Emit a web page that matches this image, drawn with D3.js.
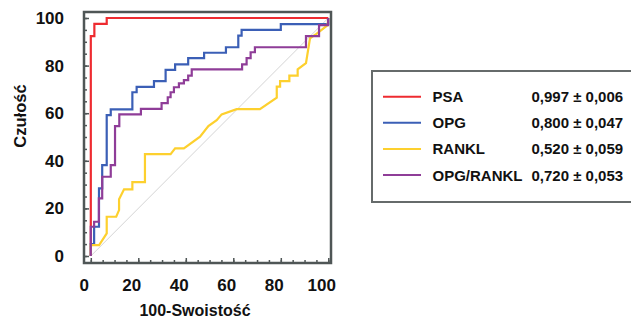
<!DOCTYPE html>
<html><head><meta charset="utf-8">
<script src="https://cdn.jsdelivr.net/npm/d3@7"></script>
<style>
html,body{margin:0;padding:0;background:#fff;}
text{font-family:"Liberation Sans",Arial,sans-serif;font-weight:bold;fill:#111;}
</style></head>
<body>
<svg id="c" width="631" height="320"></svg>
<script>
const seriesNames = ["PSA","OPG","RANKL","OPG/RANKL"];
const aucLabels = ["0,997 ± 0,006","0,800 ± 0,047","0,520 ± 0,059","0,720 ± 0,053"];
const colors = ["#ee2b30","#3b5fb6","#fdd02e","#8f3d98"];
const xTicks = [0,20,40,60,80,100];
const yTicks = [0,20,40,60,80,100];
const xTitle = "100-Swoistość";
const yTitle = "Czułość";

const psaX = [0,0,1.5,1.5,6.7,6.7,100];
const psaY = [0,92.4,92.4,97.5,97.5,100,100];

const opgX = [0,0,1.4,1.4,3.45,3.45,4.8,4.8,6.7,6.7,8.4,8.4,17.5,17.5,19.3,19.3,26.6,26.6,31.5,31.5,35.5,35.5,41,41,47.7,47.7,56.9,56.9,62.1,62.1,63.5,63.5,80,80,100,100];
const opgY = [0,5,5,12.3,12.3,28.4,28.4,38.2,38.2,59.2,59.2,61.6,61.6,68.8,68.8,71.1,71.1,73.5,73.5,78.2,78.2,80.5,80.5,83.1,83.1,85.4,85.4,87.7,87.7,92.6,92.6,95,95,97.4,97.4,100];

const ranklX = [0,0,3.5,6.7,6.7,10.7,11.9,11.9,14,17.5,17.5,22.8,22.8,33.6,35.5,39.2,46,49.5,53,55.1,61.4,71.2,78.3,78.3,79.7,79.7,83.6,83.6,87.1,87.1,90.6,92.3,95,97.2,99.7,100];
const ranklY = [0,4.6,4.6,9.5,16.5,16.5,19.3,23.8,28,28,31,31,42.8,42.8,45.2,45.2,50.1,54.6,57.1,59.5,61.7,61.7,66.5,71.2,71.2,73.5,73.5,75.8,75.8,78.4,81,91.5,93.3,95,97,100];

const ratioX = [0,0,1.4,1.4,3.4,3.4,4.8,4.8,8.4,8.4,10.2,10.2,12.0,12.0,21.1,21.1,29.8,29.8,32.4,32.4,33.6,33.6,35,35,37.1,37.1,39.2,39.2,41,41,42.5,42.5,63.7,63.7,65.6,65.6,67.3,67.3,69.1,69.1,90.6,90.6,96.1,96.1,99.9,99.9];
const ratioY = [0,12.3,12.3,14.4,14.4,24.2,24.2,33.3,33.3,38.2,38.2,54.6,54.6,59.5,59.5,61.8,61.8,64.2,64.2,66.7,66.7,68.8,68.8,70.9,70.9,72.5,72.5,73.9,73.9,75.8,75.8,78.4,78.4,80.5,80.5,83.1,83.1,85.6,85.6,87.7,87.7,92.4,92.4,97,97,100];

const seriesX = [psaX, opgX, ranklX, ratioX];
const seriesY = [psaY, opgY, ranklY, ratioY];
const drawOrder = [0,1,2,3];

const svg = d3.select("#c");
const x = d3.scaleLinear().domain([0,100]).range([90.8,328.3]);
const y = d3.scaleLinear().domain([0,100]).range([256,18]);
const frame = {l:84, r:331, t:12, b:263};
const frameColor = "#4f5656";

svg.append("line").attr("x1",x(0)).attr("y1",y(0)).attr("x2",x(100)).attr("y2",y(100))
  .attr("stroke","#d4d4d4").attr("stroke-width",1);

const line = d3.line().x(d=>x(d[0])).y(d=>y(d[1]));
drawOrder.forEach(i=>{
  const pts = seriesX[i].map((v,k)=>[v, seriesY[i][k]]);
  svg.append("path").attr("d", line(pts)).attr("fill","none")
    .attr("stroke", colors[i]).attr("stroke-width",2.2).attr("stroke-linejoin","miter");
});

svg.append("rect").attr("x",frame.l).attr("y",frame.t).attr("width",frame.r-frame.l).attr("height",frame.b-frame.t)
  .attr("fill","none").attr("stroke",frameColor).attr("stroke-width",2.5);

const minor = d3.range(0,101,5);
const gxm = svg.append("g").attr("transform",`translate(0,${frame.b})`)
  .call(d3.axisBottom(x).tickValues(minor).tickSize(-3).tickFormat(""));
const gym = svg.append("g").attr("transform",`translate(${frame.l},0)`)
  .call(d3.axisLeft(y).tickValues(minor).tickSize(-3).tickFormat(""));
const gx = svg.append("g").attr("transform",`translate(0,${frame.b})`)
  .call(d3.axisBottom(x).tickValues(xTicks).tickSize(-5).tickFormat(d3.format("d")));
const gy = svg.append("g").attr("transform",`translate(${frame.l},0)`)
  .call(d3.axisLeft(y).tickValues(yTicks).tickSize(-5).tickFormat(d3.format("d")));
[gxm,gym,gx,gy].forEach(g=>{
  g.select(".domain").remove();
  g.selectAll(".tick line").attr("stroke",frameColor).attr("stroke-width",1.5);
});
gx.selectAll(".tick text").attr("y",0).attr("dy",0).attr("x",-7).attr("transform","translate(0,22)")
  .attr("dominant-baseline","central").style("font-size","17px").style("font-family","Liberation Sans, Arial").style("font-weight","bold").attr("fill","#111");
gy.selectAll(".tick text").attr("x",-20).attr("dy",0).attr("dominant-baseline","central")
  .style("font-size","17px").style("font-family","Liberation Sans, Arial").style("font-weight","bold").attr("fill","#111");

svg.append("text").attr("x",195).attr("y",316).attr("text-anchor","middle")
  .style("font-size","16px").text(xTitle);
svg.append("text").attr("transform","translate(20,116) rotate(-90)").attr("text-anchor","middle").attr("dominant-baseline","central")
  .style("font-size","16.5px").text(yTitle);

svg.append("rect").attr("x",372).attr("y",71).attr("width",300).attr("height",131)
  .attr("fill","none").attr("stroke","#666b6b").attr("stroke-width",2);
seriesNames.forEach((n,i)=>{
  const yy = 96.7 + i*26.1;
  svg.append("line").attr("x1",383).attr("x2",421).attr("y1",yy).attr("y2",yy)
    .attr("stroke",colors[i]).attr("stroke-width",2);
  svg.append("text").attr("x",432.5).attr("y",yy).attr("dominant-baseline","central")
    .style("font-size","15px").text(n);
  svg.append("text").attr("x",531.5).attr("y",yy).attr("dominant-baseline","central")
    .style("font-size","15px").text(aucLabels[i]);
});
</script>
</body></html>
